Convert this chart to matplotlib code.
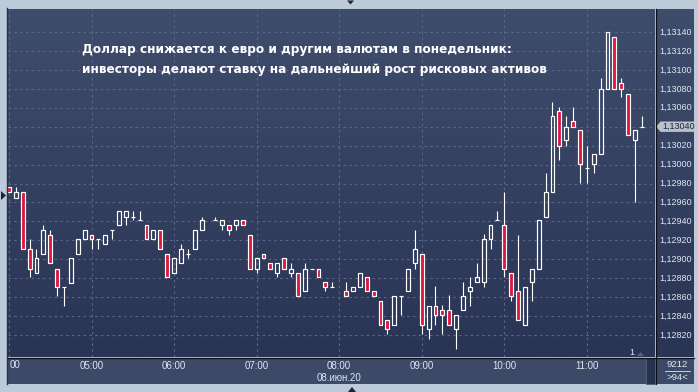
import numpy as np
import pandas as pd
import matplotlib
matplotlib.use("Agg")
import matplotlib.pyplot as plt
from matplotlib.colors import LinearSegmentedColormap
from matplotlib.patches import Rectangle, Polygon
from matplotlib.lines import Line2D

# ---- data -------------------------------------------------------------
session_start = "2020-06-08 04:00"
session_end = "2020-06-08 11:40"
no_trade_bars = ["2020-06-08 06:25", "2020-06-08 08:00"]

opens = [1.12976, 1.12965, 1.12971, 1.12911, 1.12886, 1.12906, 1.12926, 1.12890, 1.12871, 1.12875,
         1.12906, 1.12921, 1.12926, 1.12921, 1.12916, 1.12931, 1.12936, 1.12945, 1.12945, 1.12941,
         1.12936, 1.12921, 1.12931, 1.12906, 1.12886, 1.12896, 1.12906, 1.12911, 1.12931,
         1.12941, 1.12936, 1.12936, 1.12936, 1.12941, 1.12926, 1.12890, 1.12906, 1.12896, 1.12886,
         1.12901, 1.12886, 1.12886, 1.12866, 1.12890, 1.12890, 1.12876, 1.12871,
         1.12866, 1.12866, 1.12871, 1.12881, 1.12866, 1.12856, 1.12836, 1.12831, 1.12861, 1.12866,
         1.12896, 1.12906, 1.12826, 1.12851, 1.12846, 1.12846, 1.12826, 1.12846, 1.12866, 1.12876,
         1.12876, 1.12921, 1.12941, 1.12936, 1.12886, 1.12866, 1.12831, 1.12876, 1.12890, 1.12945,
         1.12971, 1.13057, 1.13026, 1.13046, 1.13036, 1.12996, 1.13001, 1.13011, 1.13080, 1.13135,
         1.13086, 1.13075, 1.13026, 1.13040]
highs = [1.12976, 1.12976, 1.12971, 1.12921, 1.12911, 1.12936, 1.12931, 1.12890, 1.12871, 1.12901,
         1.12921, 1.12931, 1.12926, 1.12921, 1.12926, 1.12931, 1.12951, 1.12951, 1.12951, 1.12951,
         1.12936, 1.12931, 1.12931, 1.12906, 1.12901, 1.12916, 1.12911, 1.12931, 1.12945,
         1.12945, 1.12941, 1.12936, 1.12941, 1.12941, 1.12926, 1.12901, 1.12906, 1.12896, 1.12896,
         1.12901, 1.12896, 1.12886, 1.12896, 1.12890, 1.12890, 1.12876, 1.12876,
         1.12876, 1.12871, 1.12886, 1.12881, 1.12866, 1.12856, 1.12836, 1.12861, 1.12861, 1.12890,
         1.12931, 1.12906, 1.12851, 1.12872, 1.12852, 1.12862, 1.12841, 1.12876, 1.12881, 1.12896,
         1.12927, 1.12936, 1.12951, 1.12971, 1.12886, 1.12926, 1.12871, 1.12890, 1.12941, 1.12991,
         1.13066, 1.13061, 1.13051, 1.13061, 1.13036, 1.13020, 1.13011, 1.13091, 1.13140, 1.13135,
         1.13091, 1.13075, 1.13036, 1.13051]
lows = [1.12971, 1.12965, 1.12911, 1.12881, 1.12886, 1.12906, 1.12896, 1.12861, 1.12851, 1.12875,
        1.12906, 1.12921, 1.12911, 1.12911, 1.12916, 1.12921, 1.12936, 1.12936, 1.12941, 1.12941,
        1.12921, 1.12921, 1.12911, 1.12881, 1.12886, 1.12896, 1.12901, 1.12911, 1.12931,
        1.12941, 1.12931, 1.12926, 1.12931, 1.12936, 1.12890, 1.12886, 1.12901, 1.12890, 1.12881,
        1.12890, 1.12881, 1.12861, 1.12866, 1.12890, 1.12881, 1.12866, 1.12871,
        1.12861, 1.12866, 1.12871, 1.12866, 1.12861, 1.12831, 1.12821, 1.12831, 1.12841, 1.12866,
        1.12890, 1.12821, 1.12816, 1.12831, 1.12821, 1.12831, 1.12805, 1.12846, 1.12851, 1.12876,
        1.12871, 1.12911, 1.12941, 1.12881, 1.12856, 1.12836, 1.12831, 1.12856, 1.12890, 1.12945,
        1.12971, 1.13005, 1.13020, 1.13040, 1.12981, 1.12981, 1.12991, 1.13011, 1.13080, 1.13080,
        1.13071, 1.13031, 1.12961, 1.13040]
closes = [1.12971, 1.12971, 1.12911, 1.12890, 1.12901, 1.12931, 1.12896, 1.12871, 1.12871, 1.12901,
          1.12921, 1.12931, 1.12921, 1.12921, 1.12926, 1.12931, 1.12951, 1.12951, 1.12945, 1.12941,
          1.12921, 1.12931, 1.12911, 1.12881, 1.12901, 1.12911, 1.12906, 1.12931, 1.12941,
          1.12941, 1.12941, 1.12931, 1.12941, 1.12936, 1.12890, 1.12901, 1.12901, 1.12890, 1.12896,
          1.12890, 1.12890, 1.12861, 1.12890, 1.12890, 1.12881, 1.12871, 1.12871,
          1.12861, 1.12871, 1.12886, 1.12866, 1.12861, 1.12831, 1.12826, 1.12861, 1.12861, 1.12890,
          1.12911, 1.12831, 1.12851, 1.12841, 1.12841, 1.12831, 1.12841, 1.12861, 1.12871, 1.12881,
          1.12921, 1.12936, 1.12941, 1.12890, 1.12861, 1.12836, 1.12871, 1.12890, 1.12941, 1.12971,
          1.13051, 1.13020, 1.13040, 1.13040, 1.13001, 1.12996, 1.13011, 1.13080, 1.13140, 1.13080,
          1.13080, 1.13031, 1.13036, 1.13040]

price_ticks = [1.12820, 1.12840, 1.12860, 1.12880, 1.12900, 1.12920, 1.12940, 1.12960, 1.12980,
               1.13000, 1.13020, 1.13040, 1.13060, 1.13080, 1.13100, 1.13120, 1.13140]
hour_labels = ["00", "05:00", "06:00", "07:00", "08:00", "09:00", "10:00", "11:00"]
last_price = 1.13040
header = "EUR/USD 5M High = 1,1314 Low = 1,12805"
headline = ["Доллар снижается к евро и другим валютам в понедельник:",
            "инвесторы делают ставку на дальнейший рост рисковых активов"]
date_label = "08.июн.20"

# ---- layout helpers ---------------------------------------------------
W, H = 698, 392
FRAME = "#bccada"
BG_TOP, BG_BOTTOM = "#3f4d6c", "#2a3454"
PANEL = "#3c4967"
GRID = "#58678a"
RED = "#dc163e"
LABEL = "#dfe6f2"


def box(x0, y0, x1, y1):
    return [x0 / W, 1 - y1 / H, (x1 - x0) / W, (y1 - y0) / H]


def fx(x):
    return x / W


def fy(y):
    return 1 - y / H


def fmt_price(p):
    return f"{p:.5f}".replace(".", ",")


bg_cmap = LinearSegmentedColormap.from_list("bg", [BG_BOTTOM, BG_TOP])
grad = np.linspace(0, 1, 256).reshape(-1, 1)

fig = plt.figure(figsize=(W / 100, H / 100), dpi=100, facecolor=FRAME)

times = pd.date_range(session_start, session_end, freq="5min").drop(pd.to_datetime(no_trade_bars))
anchor = pd.Timestamp("2020-06-08 05:00")
xpos = np.asarray((times - anchor) / pd.Timedelta("5min"), dtype=float)

px_per_bar = 6.88
x_at_anchor = 91.5
xmin = (8 - x_at_anchor) / px_per_bar
xmax = (655 - x_at_anchor) / px_per_bar
px_per_price = 94700
ymax = 1.13140 + (32 - 9) / px_per_price
ymin = 1.13140 - (357 - 32) / px_per_price

# ---- main price panel ---------------------------------------------------
ax = fig.add_axes(box(8, 9, 655, 357))
ax.imshow(grad, cmap=bg_cmap, extent=[0, 1, 0, 1], transform=ax.transAxes,
          aspect="auto", origin="lower", zorder=0)
ax.set_xlim(xmin, xmax)
ax.set_ylim(ymin, ymax)
ax.set_axis_off()

for p in price_ticks:
    ax.axhline(p, color=GRID, lw=0.8, dashes=(2.2, 3.0), zorder=1)
hour_pos = np.arange(-12, 73, 12)
for hp in hour_pos:
    ax.axvline(hp, color=GRID, lw=0.8, dashes=(2.2, 3.0), zorder=1)

bw = 0.56
for x, o, h, l, c in zip(xpos, opens, highs, lows, closes):
    top, bot = max(o, c), min(o, c)
    if h > top:
        ax.vlines(x, top, h, color="white", lw=0.8, zorder=2)
    if l < bot:
        ax.vlines(x, l, bot, color="white", lw=0.8, zorder=2)
    face = RED if c < o else "none"
    ax.add_patch(Rectangle((x - bw / 2, bot), bw, top - bot, facecolor=face,
                           edgecolor="white", lw=0.85, zorder=3))

ax.text(10, 14, header, transform=None, fontsize=7, color="white",
        family="Liberation Sans", va="center", ha="left")
for i, line in enumerate(headline):
    fig.text(fx(82), fy(50 + 19.5 * i), line, fontsize=8.7, color="white",
             family="DejaVu Sans", weight="bold", va="center", ha="left")

# ---- right price scale ----------------------------------------------------
axr = fig.add_axes(box(656, 9, 694, 357))
axr.imshow(grad, cmap=bg_cmap, extent=[0, 1, 0, 1], transform=axr.transAxes,
           aspect="auto", origin="lower", zorder=0)
axr.set_xlim(0, 1)
axr.set_ylim(ymin, ymax)
axr.set_axis_off()
for p in price_ticks:
    if abs(p - last_price) < 1e-7:
        continue
    axr.text(0.08, p, fmt_price(p), fontsize=6.5, color=LABEL,
             family="Liberation Sans", va="center", ha="left", zorder=2)

# last price marker
yl = last_price
half = 5.2 / px_per_price
axr.add_patch(Polygon([(0.0, yl), (0.12, yl + half), (1.0, yl + half),
                       (1.0, yl - half), (0.12, yl - half)], closed=True,
                      facecolor="#b9c1cd", edgecolor="none", zorder=3))
axr.text(0.16, yl, fmt_price(last_price), fontsize=6.5,
         color="#1f2738", family="Liberation Sans", va="center", ha="left", zorder=4)

# ---- time scale -------------------------------------------------------------
axb = fig.add_axes(box(8, 358, 655, 384))
axb.set_facecolor(PANEL)
axb.set_xlim(xmin, xmax)
axb.set_ylim(0, 1)
axb.set_xticks([])
axb.set_yticks([])
for s in axb.spines.values():
    s.set_visible(False)
for hp, lab in zip(hour_pos, hour_labels):
    if ":" in lab:
        axb.text(hp, 0.7, lab, fontsize=7, color=LABEL, family="Liberation Sans",
                 ha="center", va="center")
    else:
        axb.text(10, fy(365.5) * H, lab, transform=None, fontsize=7, color=LABEL,
                 family="Liberation Sans", ha="left", va="center")
axb.text(36, 0.22, date_label, fontsize=7, color=LABEL, family="Liberation Sans",
         ha="center", va="center")

fig.patches.append(Rectangle((fx(646), fy(384)), 9 / W, 26 / H, transform=fig.transFigure,
                             facecolor="#27314b", edgecolor="#56627e", lw=0.6))

# bottom-right counter box
fig.patches.append(Rectangle((fx(656), fy(384)), 38 / W, 26 / H, transform=fig.transFigure,
                             facecolor=PANEL, edgecolor="none"))
fig.text(fx(677), fy(364.5), "9212", fontsize=6.8, color=LABEL,
         family="Liberation Sans", ha="center", va="center")
fig.lines.append(Line2D([fx(665), fx(690)], [fy(371), fy(371)], transform=fig.transFigure,
                        color=LABEL, lw=0.6))
fig.text(fx(677), fy(377.5), ">94<", fontsize=6.8, color=LABEL,
         family="Liberation Sans", ha="center", va="center")

# separators
fig.lines.append(Line2D([fx(655.5), fx(655.5)], [fy(9), fy(384)], transform=fig.transFigure,
                        color="#0c0f18", lw=0.9))
fig.lines.append(Line2D([fx(8), fx(694)], [fy(357.5), fy(357.5)], transform=fig.transFigure,
                        color="#0c0f18", lw=0.9))
fig.lines.append(Line2D([fx(7.5), fx(7.5)], [fy(8), fy(384)], transform=fig.transFigure,
                        color="#2a3248", lw=1.0))

# small markers around the frame
fig.text(fx(632), fy(352.5), "1", fontsize=6.5, color=LABEL,
         family="Liberation Sans", ha="center", va="center")
fig.patches.append(Polygon([(fx(637), fy(356)), (fx(644), fy(356)), (fx(640.5), fy(352))],
                           closed=True, transform=fig.transFigure, facecolor="#56627e",
                           edgecolor="none"))
fig.patches.append(Polygon([(fx(1), fy(191)), (fx(1), fy(200)), (fx(6), fy(195.5))],
                           closed=True, transform=fig.transFigure, facecolor="#1c2438",
                           edgecolor="none"))
fig.patches.append(Polygon([(fx(347), fy(0.5)), (fx(354), fy(0.5)), (fx(350.5), fy(4.5))],
                           closed=True, transform=fig.transFigure, facecolor="#1c2438",
                           edgecolor="none"))
fig.patches.append(Polygon([(fx(348), fy(392)), (fx(356), fy(392)), (fx(352), fy(387))],
                           closed=True, transform=fig.transFigure, facecolor="#1c2438",
                           edgecolor="none"))

fig.savefig("out.png", dpi=100, facecolor=FRAME)
